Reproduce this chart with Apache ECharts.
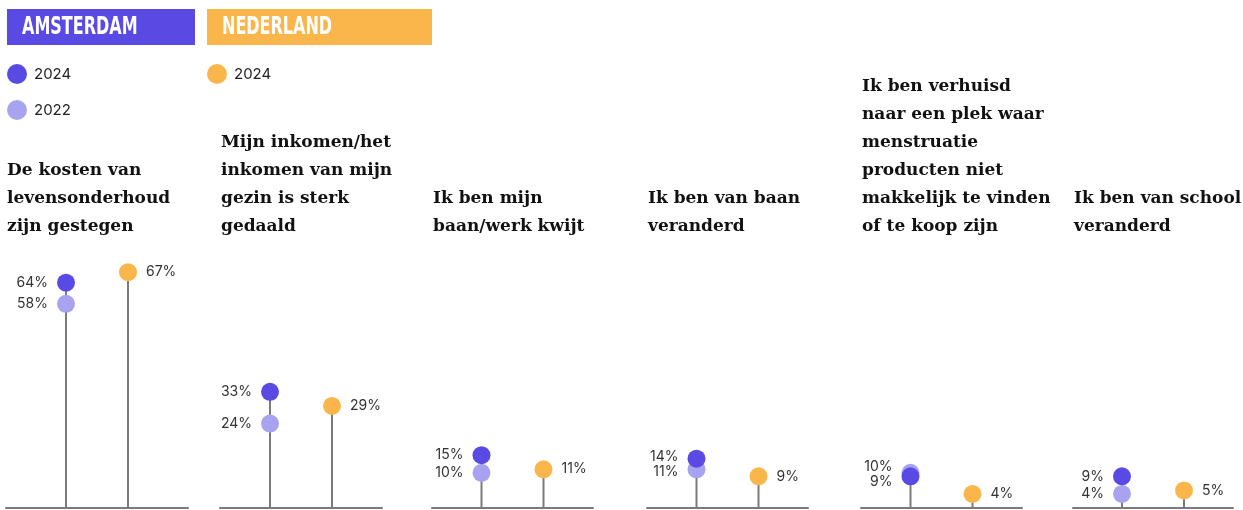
<!DOCTYPE html>
<html>
<head>
<meta charset="utf-8">
<script src="https://cdn.jsdelivr.net/npm/echarts@6/dist/echarts.min.js"></script>
<style>
  html, body { margin: 0; padding: 0; background: #ffffff; }
  #chart { width: 1243px; height: 510px; }
</style>
</head>
<body>
<div id="chart"></div>
<script>
// Statements (one lollipop panel each)
const categories = [
  'De kosten van\nlevensonderhoud\nzijn gestegen',
  'Mijn inkomen/het\ninkomen van mijn\ngezin is sterk\ngedaald',
  'Ik ben mijn\nbaan/werk kwijt',
  'Ik ben van baan\nveranderd',
  'Ik ben verhuisd\nnaar een plek waar\nmenstruatie\nproducten niet\nmakkelijk te vinden\nof te koop zijn',
  'Ik ben van school\nveranderd'
];
// Share of respondents (%)
const amsterdam2024 = [64, 33, 15, 14, 9, 9];
const amsterdam2022 = [58, 24, 10, 11, 10, 4];
const nederland2024 = [67, 29, 11, 9, 4, 5];

const groupLabels = ['AMSTERDAM', 'NEDERLAND'];
const legendYears = ['2024', '2022'];

const C_A24 = '#5a4ae4';
const C_A22 = '#a8a3f1';
const C_NL = '#fbb64b';
const STEM = '#7a7a7a';
const SANS = 'Inter, "Noto Sans", sans-serif';
const SERIF = '"DejaVu Serif", "Liberation Serif", serif';

// panel layout
const panelLeft = [6, 220, 432, 647, 861, 1073];
const panelWidth = [182, 162, 161, 161, 161, 160];
const stemGap = 31;          // px from panel centre to each stem
const gridTop = 156, gridBottom = 2;
const pxPerUnit = (510 - gridTop - gridBottom) / 100;

const grids = [], xAxes = [], yAxes = [], series = [], graphics = [];

function labelShift(a, b) {
  // push two close labels apart vertically; returns [dyA, dyB]
  const gap = Math.abs(a - b) * pxPerUnit;
  const need = 15;
  if (gap >= need) return [0, 0];
  const s = (need - gap) / 2;
  return a >= b ? [-s, s] : [s, -s];
}

categories.forEach((cat, i) => {
  const half = panelWidth[i] / 2 / stemGap;
  grids.push({ left: panelLeft[i], width: panelWidth[i], top: gridTop, bottom: gridBottom });
  xAxes.push({
    gridIndex: i, type: 'value', min: -half, max: half,
    axisLine: { show: true, lineStyle: { color: STEM, width: 2 } },
    axisTick: { show: false }, axisLabel: { show: false }, splitLine: { show: false }
  });
  yAxes.push({
    gridIndex: i, type: 'value', min: 0, max: 100, show: false, splitLine: { show: false }
  });

  const a24 = amsterdam2024[i], a22 = amsterdam2022[i], nl = nederland2024[i];
  const [d24, d22] = labelShift(a24, a22);

  series.push({
    type: 'custom', xAxisIndex: i, yAxisIndex: i, silent: true, z: 1,
    data: [[-1, Math.max(a24, a22)], [1, nl]],
    renderItem(params, api) {
      const p0 = api.coord([api.value(0), 0]);
      const p1 = api.coord([api.value(0), api.value(1)]);
      return {
        type: 'line',
        shape: { x1: p0[0], y1: p0[1], x2: p1[0], y2: p1[1] },
        style: { stroke: STEM, lineWidth: 2 }
      };
    }
  });

  const labelBase = { show: true, fontFamily: SANS, fontSize: 14, color: '#333', formatter: p => p.value[1] + '%' };

  series.push({
    name: 'Amsterdam 2022', type: 'scatter', xAxisIndex: i, yAxisIndex: i, z: 2,
    symbolSize: 18, itemStyle: { color: C_A22, opacity: 1 },
    label: Object.assign({}, labelBase, { position: 'left', distance: 9, offset: [0, d22] }),
    data: [[-1, a22]]
  });
  series.push({
    name: 'Amsterdam 2024', type: 'scatter', xAxisIndex: i, yAxisIndex: i, z: 3,
    symbolSize: 18, itemStyle: { color: C_A24, opacity: 1 },
    label: Object.assign({}, labelBase, { position: 'left', distance: 9, offset: [0, d24] }),
    data: [[-1, a24]]
  });
  series.push({
    name: 'Nederland 2024', type: 'scatter', xAxisIndex: i, yAxisIndex: i, z: 3,
    symbolSize: 18, itemStyle: { color: C_NL, opacity: 1 },
    label: Object.assign({}, labelBase, { position: 'right', distance: 9 }),
    data: [[1, nl]]
  });

  // statement title, bottom aligned above the panel
  graphics.push({
    type: 'text', left: panelLeft[i] + 1, top: 241 - cat.split('\n').length * 28,
    style: {
      text: cat, font: 'bold 17px ' + SERIF, lineHeight: 28, fill: '#111'
    }
  });
});

// group header badges
[[7, 188, C_A24], [207, 225, C_NL]].forEach(([x, w, c], k) => {
  graphics.push({ type: 'rect', shape: { x: x, y: 9, width: w, height: 36 }, style: { fill: c } });
  graphics.push({
    type: 'text', x: x + 15, y: 27, scaleX: 0.64, originX: 0, originY: 0,
    style: {
      text: groupLabels[k], font: 'bold 25px "DejaVu Sans", sans-serif',
      fill: '#ffffff', verticalAlign: 'middle', align: 'left'
    }
  });
});

const chart = echarts.init(document.getElementById('chart'), null, { renderer: 'canvas' });
chart.setOption({
  animation: false,
  backgroundColor: '#ffffff',
  grid: grids,
  xAxis: xAxes,
  yAxis: yAxes,
  legend: [
    {
      left: 2, top: 59, orient: 'vertical', itemWidth: 20, itemHeight: 20, itemGap: 16,
      icon: 'circle', data: ['Amsterdam 2024', 'Amsterdam 2022'],
      formatter: n => n.indexOf('2024') >= 0 ? legendYears[0] : legendYears[1],
      textStyle: { fontFamily: SANS, fontSize: 15, color: '#222', padding: [0, 0, 0, 2] },
      selectedMode: false
    },
    {
      left: 202, top: 59, orient: 'vertical', itemWidth: 20, itemHeight: 20,
      icon: 'circle', data: ['Nederland 2024'],
      formatter: () => legendYears[0],
      textStyle: { fontFamily: SANS, fontSize: 15, color: '#222', padding: [0, 0, 0, 2] },
      selectedMode: false
    }
  ],
  graphic: graphics,
  series: series
});
</script>
</body>
</html>
